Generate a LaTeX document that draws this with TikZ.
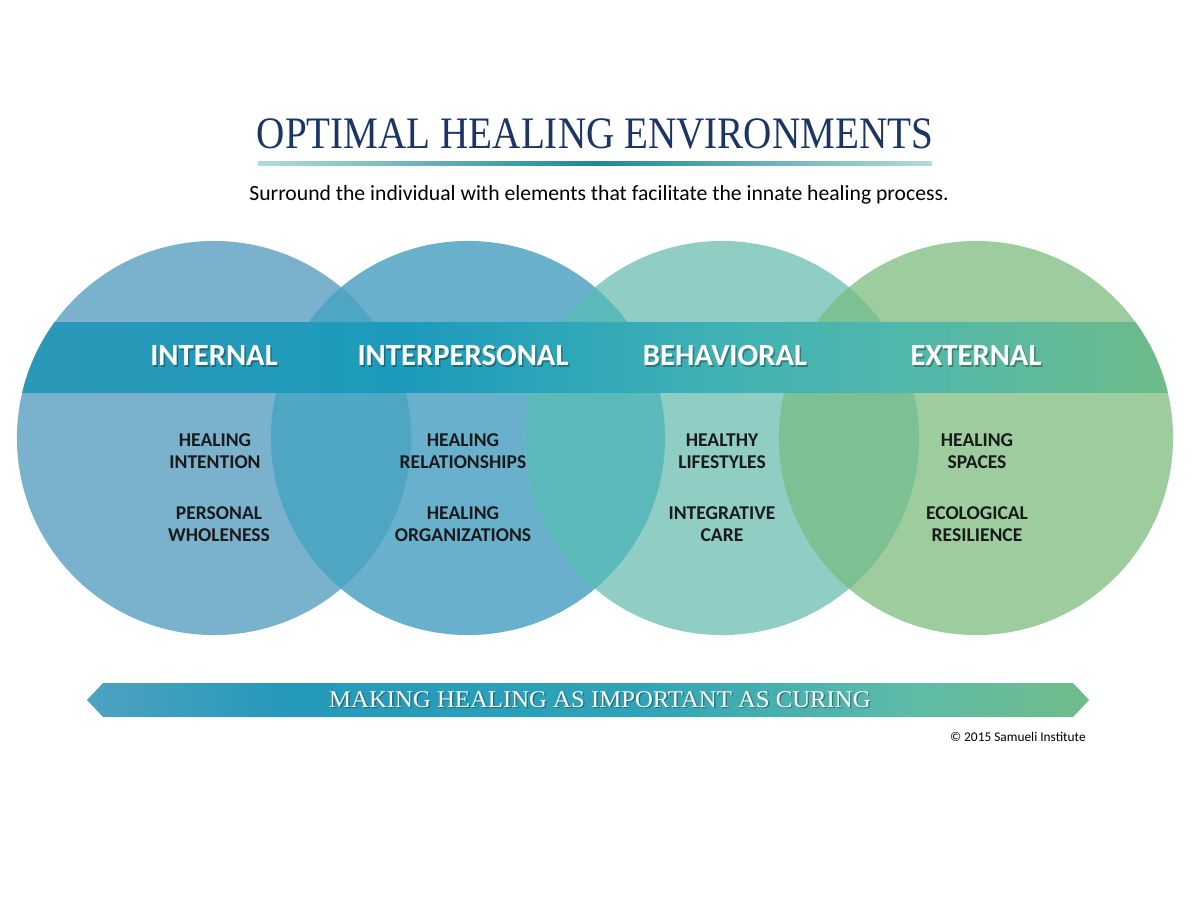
\documentclass[tikz,border=0pt]{standalone}
\usepackage{fontspec}
\setmainfont{Liberation Serif}
\setsansfont{Carlito}
\usepackage{tikz}

% circle and band colours
\definecolor{circA}{HTML}{7AB1CD}
\definecolor{circB}{HTML}{69B0CC}
\definecolor{circC}{HTML}{8FCDC5}
\definecolor{circD}{HTML}{9DCC9E}
\definecolor{lapAB}{HTML}{4FA6C3}
\definecolor{lapBC}{HTML}{5CB9BA}
\definecolor{lapCD}{HTML}{7CC093}
\definecolor{bandA}{HTML}{2C98B8}
\definecolor{bandB}{HTML}{1D9BBC}
\definecolor{bandC}{HTML}{3FB1B5}
\definecolor{bandD}{HTML}{52B8AB}
\definecolor{bandE}{HTML}{6DBC88}
\definecolor{arrowA}{HTML}{4FA2C0}
\definecolor{arrowB}{HTML}{2499BA}
\definecolor{arrowC}{HTML}{2EA3B8}
\definecolor{arrowD}{HTML}{5DBBA7}
\definecolor{arrowE}{HTML}{70BC88}
\definecolor{titleblue}{HTML}{1B3566}
\definecolor{ruleA}{HTML}{B2DCDC}
\definecolor{ruleB}{HTML}{1E8894}
\definecolor{itemtext}{HTML}{1A1A1A}

\pgfdeclarehorizontalshading{bandgrad}{100bp}{color(0bp)=(bandA); color(25bp)=(bandA);
  color(42bp)=(bandB); color(55bp)=(bandC); color(64bp)=(bandD); color(75bp)=(bandE); color(100bp)=(bandE)}
\pgfdeclarehorizontalshading{arrowgrad}{100bp}{color(0bp)=(arrowA); color(25bp)=(arrowA);
  color(35bp)=(arrowB); color(52bp)=(arrowC); color(66bp)=(arrowD); color(75bp)=(arrowE); color(100bp)=(arrowE)}
\pgfdeclarehorizontalshading{rulegrad}{100bp}{color(0bp)=(ruleA); color(25bp)=(ruleA);
  color(50bp)=(ruleB); color(75bp)=(ruleA); color(100bp)=(ruleA)}

\begin{document}
\begin{tikzpicture}[x=0.025cm,y=-0.025cm,
    head/.style={font=\sffamily\bfseries\fontsize{21.8}{26}\selectfont, text=white, anchor=base},
    headshadow/.style={font=\sffamily\bfseries\fontsize{21.8}{26}\selectfont, text=black, opacity=0.3, anchor=base},
    item/.style={font=\sffamily\bfseries\fontsize{13.9}{15.6}\selectfont, text=itemtext, align=center, inner sep=0pt},
    ring/.style={radius=4.925cm}]

      \useasboundingbox[fill=white] (0,0) rectangle (1200,900);

      % Title and rule
      \node[anchor=base, text=titleblue, inner sep=0pt] (title) at (595,148)
        {\scalebox{0.87}[1]{\fontsize{32}{36}\selectfont OPTIMAL HEALING ENVIRONMENTS}};
      \shade[shading=rulegrad] (258,161) rectangle (932,165);
      \node[anchor=base, inner sep=0pt, font=\sffamily\fontsize{15.4}{18}\selectfont] (subtitle) at (599,200)
        {Surround the individual with elements that facilitate the innate healing process.};

      % Centres of the four circles
      \coordinate (c1) at (214,438);
      \coordinate (c2) at (468,438);
      \coordinate (c3) at (722,438);
      \coordinate (c4) at (976,438);

      \fill[circA] (c1) circle[ring];
      \fill[circB] (c2) circle[ring];
      \fill[circC] (c3) circle[ring];
      \fill[circD] (c4) circle[ring];

      % Overlaps
      \begin{scope}
        \clip (c1) circle[ring];
        \fill[lapAB] (c2) circle[ring];
      \end{scope}
      \begin{scope}
        \clip (c2) circle[ring];
        \fill[lapBC] (c3) circle[ring];
      \end{scope}
      \begin{scope}
        \clip (c3) circle[ring];
        \fill[lapCD] (c4) circle[ring];
      \end{scope}

      % Band across the circles
      \begin{scope}
        \clip (c1) circle[ring] (c2) circle[ring] (c3) circle[ring] (c4) circle[ring];
        \shade[shading=bandgrad] (17,322) rectangle (1173,392);
      \end{scope}

      % Headings
      \node[headshadow] (internal-sh) at (215.5,367) {INTERNAL};
      \node[head] (internal) at (214,365) {INTERNAL};
      \node[headshadow] (interpersonal-sh) at (464.5,367) {INTERPERSONAL};
      \node[head] (interpersonal) at (463,365) {INTERPERSONAL};
      \node[headshadow] (behavioral-sh) at (726.5,367) {BEHAVIORAL};
      \node[head] (behavioral) at (725,365) {BEHAVIORAL};
      \node[headshadow] (external-sh) at (977.5,367) {EXTERNAL};
      \node[head] (external) at (976,365) {EXTERNAL};

      % Items in each circle
      \node[item] (intention) at (215,451) {HEALING\\INTENTION};
      \node[item] (wholeness) at (219,524) {PERSONAL\\WHOLENESS};
      \node[item] (relations) at (463,451) {HEALING\\RELATIONSHIPS};
      \node[item] (organizations) at (463,524) {HEALING\\ORGANIZATIONS};
      \node[item] (lifestyles) at (722,451) {HEALTHY\\LIFESTYLES};
      \node[item] (care) at (722,524) {INTEGRATIVE\\CARE};
      \node[item] (spaces) at (977,451) {HEALING\\SPACES};
      \node[item] (resilience) at (977,524) {ECOLOGICAL\\RESILIENCE};

      % Arrow along the bottom
      \shade[shading=arrowgrad] (87,700) -- (103,683) -- (1073,683) -- (1089,700) -- (1073,717) -- (103,717) -- cycle;
      \node[anchor=base, inner sep=0pt, text=black, opacity=0.3] (motto-sh) at (601.5,708.5)
        {\scalebox{1.035}[1]{\fontsize{17}{20}\selectfont MAKING HEALING AS IMPORTANT AS CURING}};
      \node[anchor=base, inner sep=0pt, text=white] (motto) at (600,707)
        {\scalebox{1.035}[1]{\fontsize{17}{20}\selectfont MAKING HEALING AS IMPORTANT AS CURING}};

      \node[anchor=base east, inner sep=0pt, font=\sffamily\fontsize{9.5}{11}\selectfont] (copyright) at (1086,741)
        {\textcopyright\ 2015 Samueli Institute};
\end{tikzpicture}
\end{document}
